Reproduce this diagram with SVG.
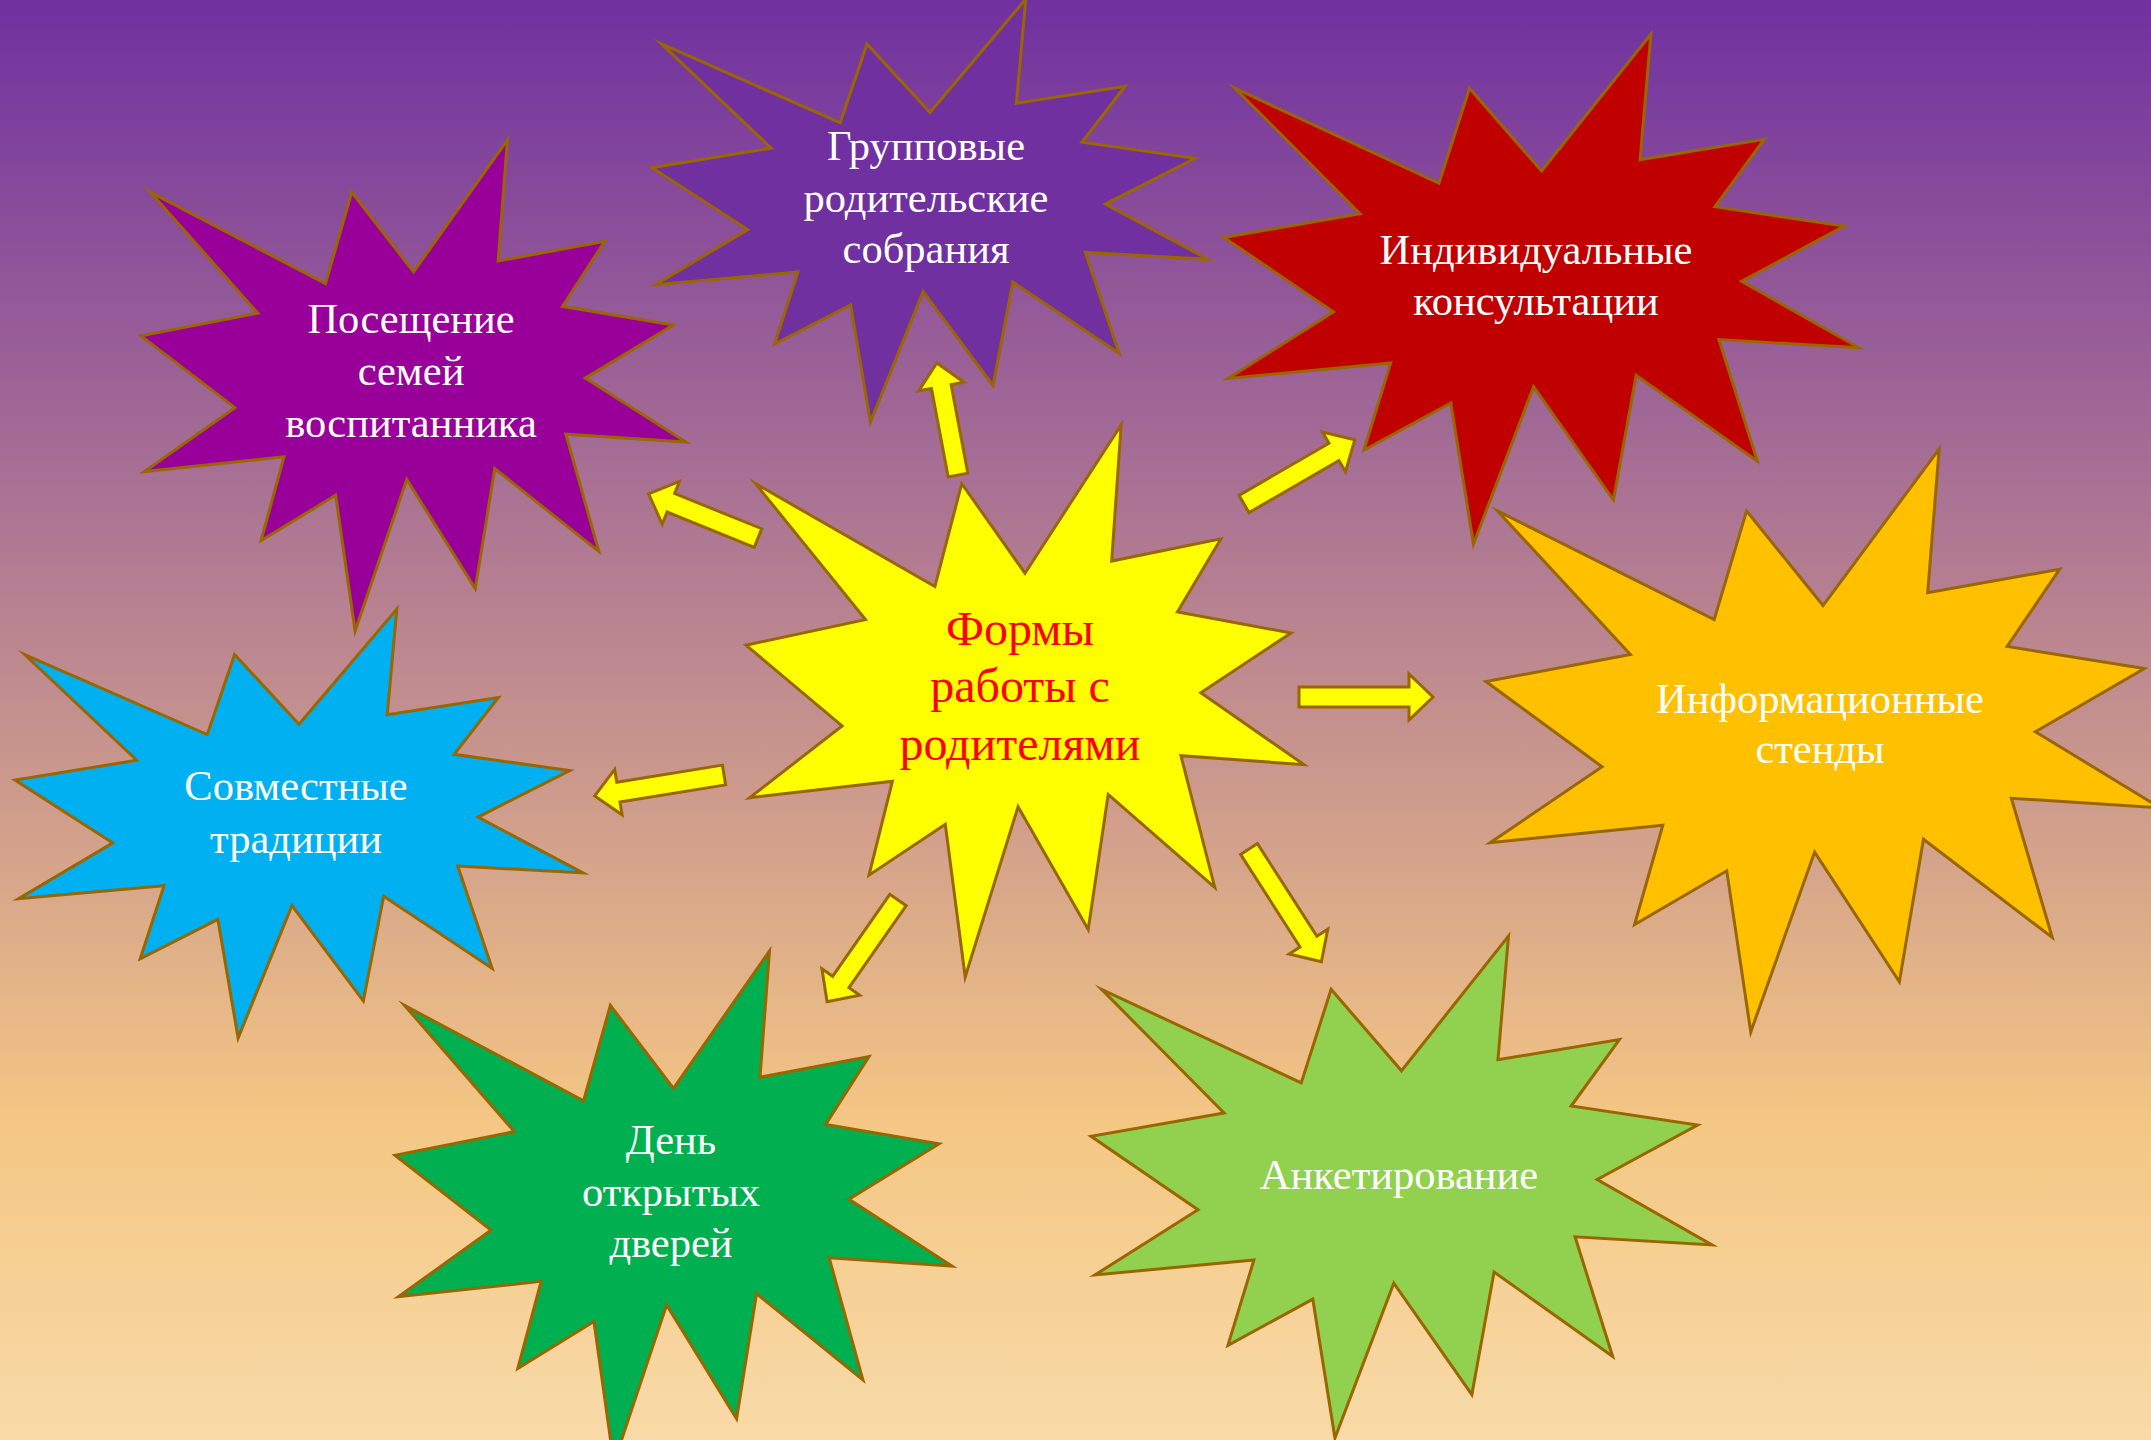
<svg xmlns="http://www.w3.org/2000/svg" xmlns:xlink="http://www.w3.org/1999/xlink" width="2151" height="1440" viewBox="0 0 2151 1440">
  <defs>
    <linearGradient id="bg" x1="0" y1="0" x2="0" y2="1">
      <stop offset="0" stop-color="#7030A0"/>
      <stop offset="0.78" stop-color="#F4C784"/>
      <stop offset="1" stop-color="#F8DAA8"/>
    </linearGradient>
    <path id="seal" d="M10800,5800 L14522,0 L14155,5325 L18380,4457 L16702,7315 L21097,8137 L17607,10475 L21600,13290 L16837,12942 L18145,18095 L14020,14457 L13247,19737 L10532,14935 L8485,21600 L7715,15627 L4762,17617 L5667,13937 L135,14587 L3722,11775 L0,8615 L4627,7617 L370,2295 L7312,6320 L8352,2295 Z" stroke="#996600" stroke-width="3" stroke-linejoin="miter" stroke-miterlimit="10" vector-effect="non-scaling-stroke"/>
    <style>
      .lbl { font-family: "Liberation Serif", "Times New Roman", serif; font-size: 42.5px; fill: #FFFFFF; text-anchor: middle; }
      .ctr { font-family: "Liberation Serif", "Times New Roman", serif; font-size: 48px; fill: #FF0000; text-anchor: middle; }
      .arr { fill: #FFFF00; stroke: #996600; stroke-width: 3; stroke-linejoin: miter; stroke-miterlimit: 10; }
    </style>
  </defs>
  <rect x="0" y="0" width="2151" height="1440" fill="url(#bg)"/>

  <g id="n-poseshchenie">
    <use xlink:href="#seal" href="#seal" fill="#990099" transform="translate(141,140) scale(0.025231,0.022731)"/>
    <text class="lbl"><tspan x="411" y="333">Посещение</tspan><tspan x="411" y="385">семей</tspan><tspan x="411" y="437">воспитанника</tspan></text>
  </g>

  <g id="n-gruppovye">
    <use xlink:href="#seal" href="#seal" fill="#7030A0" transform="translate(652,-1) scale(0.025741,0.019583)"/>
    <text class="lbl"><tspan x="926" y="160">Групповые</tspan><tspan x="926" y="212">родительские</tspan><tspan x="926" y="263">собрания</tspan></text>
  </g>

  <g id="n-individualnye">
    <use xlink:href="#seal" href="#seal" fill="#C00000" transform="translate(1224,34) scale(0.029398,0.023611)"/>
    <text class="lbl"><tspan x="1536" y="264">Индивидуальные</tspan><tspan x="1536" y="315">консультации</tspan></text>
  </g>

  <g id="n-informatsionnye">
    <use xlink:href="#seal" href="#seal" fill="#FFC000" transform="translate(1486,449) scale(0.031204,0.026991)"/>
    <text class="lbl"><tspan x="1820" y="713">Информационные</tspan><tspan x="1820" y="763">стенды</tspan></text>
  </g>

  <g id="n-sovmestnye">
    <use xlink:href="#seal" href="#seal" fill="#00B0F0" transform="translate(15,609) scale(0.026296,0.019861)"/>
    <text class="lbl"><tspan x="296" y="800">Совместные</tspan><tspan x="296" y="853">традиции</tspan></text>
  </g>

  <g id="n-den">
    <use xlink:href="#seal" href="#seal" fill="#00B050" transform="translate(395,951) scale(0.025787,0.023704)"/>
    <text class="lbl"><tspan x="671" y="1154">День</tspan><tspan x="671" y="1206">открытых</tspan><tspan x="671" y="1257">дверей</tspan></text>
  </g>

  <g id="n-anketirovanie">
    <use xlink:href="#seal" href="#seal" fill="#92D050" transform="translate(1091,936) scale(0.028750,0.023241)"/>
    <text class="lbl"><tspan x="1399" y="1189">Анкетирование</tspan></text>
  </g>

  <g id="n-center">
    <use xlink:href="#seal" href="#seal" fill="#FFFF00" transform="translate(746,425) scale(0.025833,0.025556)"/>
    <text class="ctr"><tspan x="1020" y="645">Формы</tspan><tspan x="1020" y="702">работы с</tspan><tspan x="1020" y="760">родителями</tspan></text>
  </g>

  <g id="connectors">
    <path class="arr" transform="translate(758,538) rotate(-158)" d="M0,-10 H94 V-23 L118,0 L94,23 V10 H0 Z"/>
    <path class="arr" transform="translate(958,475) rotate(-100.7)" d="M0,-10 H90 V-23 L114,0 L90,23 V10 H0 Z"/>
    <path class="arr" transform="translate(1244,504) rotate(-30.1)" d="M0,-10 H104 V-23 L128,0 L104,23 V10 H0 Z"/>
    <path class="arr" transform="translate(1299,697)" d="M0,-10 H110 V-23 L134,0 L110,23 V10 H0 Z"/>
    <path class="arr" transform="translate(1249,849) rotate(57.3)" d="M0,-10 H110 V-23 L134,0 L110,23 V10 H0 Z"/>
    <path class="arr" transform="translate(898,900) rotate(124.9)" d="M0,-10 H100 V-23 L124,0 L100,23 V10 H0 Z"/>
    <path class="arr" transform="translate(724,775) rotate(170.8)" d="M0,-10 H107 V-23 L131,0 L107,23 V10 H0 Z"/>
  </g>
</svg>
